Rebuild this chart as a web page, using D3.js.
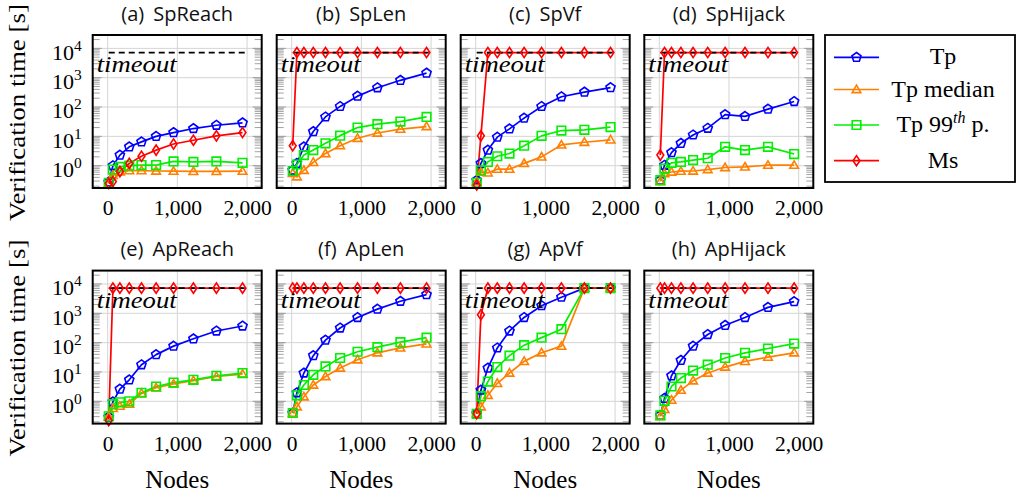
<!DOCTYPE html>
<html><head><meta charset="utf-8">
<script src="https://cdn.jsdelivr.net/npm/d3@7"></script>
<style>
html,body{margin:0;padding:0;background:#fff;}
svg{display:block;}
</style></head>
<body><svg id="chart" width="1017" height="497"></svg>
<script>
// ---------- data ----------
const nodes = [15, 75, 175, 310, 485, 695, 945, 1230, 1560, 1935];
const TIMEOUT = 7200;
const T = TIMEOUT;
const panelTitles = ["(a)", "(b)", "(c)", "(d)", "(e)", "(f)", "(g)", "(h)"];
const panelNames = ["SpReach", "SpLen", "SpVf", "SpHijack", "ApReach", "ApLen", "ApVf", "ApHijack"];
const seriesNames = ["Tp", "Tp median", "Tp 99th p.", "Ms"];
const xTicks = [0, 1000, 2000];
const yTicks = [1, 10, 100, 1000, 10000];

const tpValues = [
  [0.28, 1.0, 2.3, 4.4, 6.5, 10, 13.5, 18.5, 24, 29],
  [0.7, 1.2, 4.4, 14.6, 46, 105, 235, 455, 815, 1440],
  [0.32, 1.2, 3.4, 9.4, 18, 42, 105, 225, 324, 460],
  [0.32, 1.04, 2.8, 5.8, 11.2, 19, 55, 48, 85, 155],
  [0.29, 0.96, 2.6, 5.4, 17.7, 39, 76, 135, 250, 370],
  [0.4, 1.96, 9.2, 36, 122, 316, 720, 1390, 2570, 4350],
  [0.38, 2.4, 13.6, 66, 250, 720, 1820, 3550, T, T],
  [0.33, 1.26, 7.4, 25, 76, 190, 390, 720, 1590, 2500]
];
const medianValues = [
  [0.25, 0.47, 0.62, 0.68, 0.68, 0.66, 0.65, 0.64, 0.64, 0.65],
  [0.55, 0.42, 0.7, 1.3, 2.6, 4.8, 8.6, 13, 17.6, 21.6],
  [0.28, 0.6, 0.57, 0.76, 0.76, 1.2, 2.0, 5.1, 6.3, 7.6],
  [0.29, 0.54, 0.61, 0.65, 0.66, 0.74, 0.87, 0.91, 1.04, 1.04],
  [0.3, 0.57, 0.68, 0.8, 1.87, 2.9, 3.9, 5.1, 7.0, 8.5],
  [0.39, 0.65, 1.43, 3.6, 7.0, 13.6, 26, 45, 66, 91],
  [0.38, 0.65, 1.6, 4.1, 9.2, 23, 45, 76, T, T],
  [0.31, 0.53, 1.1, 2.4, 5.0, 9.2, 14.7, 23, 32, 45]
];
const p99Values = [
  [0.26, 0.74, 0.91, 1.0, 1.05, 1.05, 1.4, 1.35, 1.4, 1.25],
  [0.66, 1.1, 2.3, 3.4, 5.8, 10.6, 20, 26, 32, 46],
  [0.26, 0.7, 1.35, 2.1, 2.6, 4.8, 10.4, 15.8, 16.7, 20.8],
  [0.32, 0.8, 1.25, 1.35, 1.55, 1.8, 4.4, 3.4, 4.4, 2.5],
  [0.31, 0.8, 0.92, 1.0, 1.96, 3.2, 4.35, 5.4, 7.4, 9.2],
  [0.4, 1.6, 3.6, 8.0, 15.5, 30, 49, 70, 104, 148],
  [0.37, 1.5, 4.7, 14.7, 36, 82, 148, 287, T, T],
  [0.33, 1.04, 3.2, 6.2, 11.2, 17.7, 30, 45, 63, 93]
];
const msValues = [
  [0.25, 0.29, 0.63, 1.2, 2.1, 3.4, 5.5, 7.4, 10.4, 13.5],
  [4.8, T, T, T, T, T, T, T, T, T],
  [0.22, 10.4, T, T, T, T, T, T, T, T],
  [2.3, T, T, T, T, T, T, T, T, T],
  [0.22, T, T, T, T, T, T, T, T, T],
  [T, T, T, T, T, T, T, T, T, T],
  [0.38, 890, T, T, T, T, T, T, T, T],
  [T, T, T, T, T, T, T, T, T, T]
];

// ---------- style / layout ----------
const colors = ["#0000ff", "#ff8000", "#00f000", "#ff0000"];
const shapes = ["pentagon", "triangle", "square", "diamond"];
const colLefts = [92.7, 276.7, 460.7, 644.3];
const rowTops = [35, 270.6];
const PW = 169, PH = 153;
const serif = "'Liberation Serif', 'Times New Roman', serif";
const sans = "'Open Sans', 'DejaVu Sans', sans-serif";

function markerPath(shape) {
  if (shape === "pentagon") {
    const r = 4.8; const pts = [];
    for (let k = 0; k < 5; k++) { const a = -Math.PI / 2 + k * 2 * Math.PI / 5; pts.push([r * Math.cos(a), r * Math.sin(a)]); }
    return "M" + pts.map(p => p[0].toFixed(2) + "," + p[1].toFixed(2)).join("L") + "Z";
  }
  if (shape === "triangle") {
    const r = 5.0; const pts = [];
    for (let k = 0; k < 3; k++) { const a = -Math.PI / 2 + k * 2 * Math.PI / 3; pts.push([r * Math.cos(a), r * Math.sin(a) + 0.6]); }
    return "M" + pts.map(p => p[0].toFixed(2) + "," + p[1].toFixed(2)).join("L") + "Z";
  }
  if (shape === "square") { const h = 4.3; return `M${-h},${-h}L${h},${-h}L${h},${h}L${-h},${h}Z`; }
  const w = 3.4, hh = 5.1;
  return `M0,${-hh}L${w},0L0,${hh}L${-w},0Z`;
}

const svg = d3.select("#chart");
svg.append("rect").attr("width", 1017).attr("height", 497).attr("fill", "#fff");

panelNames.forEach((name, i) => {
  const col = i % 4, row = Math.floor(i / 4);
  const left = colLefts[col], top = rowTops[row];
  const x = d3.scaleLinear().domain([-215, 2210]).range([left, left + PW]);
  const y = d3.scaleLog().domain([Math.pow(10, -0.76), Math.pow(10, 4.456)]).range([top + PH, top]);
  const g = svg.append("g");

  // grid
  g.selectAll(".gx").data(xTicks).join("line")
    .attr("x1", d => x(d)).attr("x2", d => x(d)).attr("y1", top).attr("y2", top + PH)
    .attr("stroke", "#d4d4d4").attr("stroke-width", 1);
  g.selectAll(".gy").data(yTicks).join("line")
    .attr("x1", left).attr("x2", left + PW).attr("y1", d => y(d)).attr("y2", d => y(d))
    .attr("stroke", "#d4d4d4").attr("stroke-width", 1);

  // minor ticks (inside, both sides)
  const minors = [];
  for (let e = -1; e <= 4; e++) for (let m = 2; m <= 9; m++) {
    const v = m * Math.pow(10, e);
    if (v > y.domain()[0] && v < y.domain()[1]) minors.push(v);
  }
  [[left, 1], [left + PW, -1]].forEach(([x0, dir]) => {
    g.append("g").selectAll("line").data(minors).join("line")
      .attr("x1", x0).attr("x2", x0 + dir * 7).attr("y1", d => y(d)).attr("y2", d => y(d))
      .attr("stroke", "#9a9a9a").attr("stroke-width", 0.9);
    g.append("g").selectAll("line").data(yTicks).join("line")
      .attr("x1", x0).attr("x2", x0 + dir * 9).attr("y1", d => y(d)).attr("y2", d => y(d))
      .attr("stroke", "#9a9a9a").attr("stroke-width", 1);
  });

  const lineGen = d3.line().x(d => x(d[0])).y(d => y(d[1]));
  const allSeries = [tpValues[i], medianValues[i], p99Values[i], msValues[i]];

  // series lines
  allSeries.forEach((vals, s) => {
    const pts = nodes.map((n, k) => [n, vals[k]]);
    g.append("path").attr("d", lineGen(pts)).attr("fill", "none")
      .attr("stroke", colors[s]).attr("stroke-width", 1.7).attr("stroke-linejoin", "round");
  });

  // timeout line
  g.append("path").attr("d", lineGen([[nodes[0], TIMEOUT], [1985, TIMEOUT]]))
    .attr("stroke", "#000").attr("stroke-width", 1.8).attr("stroke-dasharray", "6,4").attr("fill", "none");

  // markers
  allSeries.forEach((vals, s) => {
    g.append("g").selectAll("path").data(nodes.map((n, k) => [n, vals[k]])).join("path")
      .attr("d", markerPath(shapes[s]))
      .attr("transform", d => `translate(${x(d[0])},${y(d[1])})`)
      .attr("fill", "none").attr("stroke", colors[s]).attr("stroke-width", 1.6);
  });

  // timeout label
  g.append("text").attr("x", left + 4).attr("y", top + 37)
    .attr("font-family", serif).attr("font-style", "italic").attr("font-size", 24)
    .attr("textLength", 80).attr("lengthAdjust", "spacingAndGlyphs")
    .text("timeout");

  // frame
  g.append("rect").attr("x", left).attr("y", top).attr("width", PW).attr("height", PH)
    .attr("fill", "none").attr("stroke", "#000").attr("stroke-width", 2);

  // x axis labels
  const xa = g.append("g").attr("transform", `translate(0,${top + PH})`)
    .call(d3.axisBottom(x).tickValues(xTicks).tickSize(0).tickFormat(d3.format(",")));
  xa.select(".domain").remove();
  xa.selectAll("text").attr("y", 27).attr("dy", null)
    .attr("font-family", serif).attr("font-size", 21.5).attr("fill", "#000");

  // y axis labels (first column)
  if (col === 0) {
    const ya = g.append("g").attr("transform", `translate(${left},0)`)
      .call(d3.axisLeft(y).tickValues(yTicks).tickSize(0));
    ya.select(".domain").remove();
    ya.selectAll("text").each(function (d) {
      const t = d3.select(this);
      t.text(null).attr("x", -11).attr("y", 10.7).attr("dy", null)
        .attr("font-family", serif).attr("font-size", 22).attr("fill", "#000").attr("text-anchor", "end");
      t.append("tspan").text("10");
      t.append("tspan").attr("dy", -9).attr("font-size", 15.5).text(String(Math.round(Math.log10(d))));
    });
    svg.append("text")
      .attr("transform", `translate(25,${top + PH / 2 + 1}) rotate(-90)`)
      .attr("text-anchor", "middle").attr("font-family", serif).attr("font-size", 24)
      .attr("textLength", 217).attr("lengthAdjust", "spacingAndGlyphs")
      .text("Verification time [s]");
  }

  // title
  const tt = svg.append("text").attr("x", left + PW / 2).attr("y", top - 14.5)
    .attr("text-anchor", "middle").attr("font-family", sans).attr("font-size", 20).attr("fill", "#111");
  tt.append("tspan").text(panelTitles[i]);
  tt.append("tspan").attr("dx", 9).text(name);

  // x label (bottom row)
  if (row === 1) {
    svg.append("text").attr("x", left + PW / 2).attr("y", 488).attr("text-anchor", "middle")
      .attr("font-family", serif).attr("font-size", 25).text("Nodes");
  }
});

// ---------- legend ----------
const lg = svg.append("g");
lg.append("rect").attr("x", 825).attr("y", 35).attr("width", 190).attr("height", 147)
  .attr("fill", "#fff").attr("stroke", "#000").attr("stroke-width", 1.8);
const legendY = [57.3, 89.5, 125, 160.7];
seriesNames.forEach((nm, s) => {
  const yy = legendY[s];
  lg.append("line").attr("x1", 834).attr("x2", 879).attr("y1", yy).attr("y2", yy)
    .attr("stroke", colors[s]).attr("stroke-width", 1.7);
  lg.append("path").attr("d", markerPath(shapes[s])).attr("transform", `translate(856.5,${yy})`)
    .attr("fill", "none").attr("stroke", colors[s]).attr("stroke-width", 1.6);
  const t = lg.append("text").attr("x", 943).attr("y", yy + 7).attr("text-anchor", "middle")
    .attr("font-family", serif).attr("font-size", 24).attr("fill", "#000");
  if (s === 2) {
    t.append("tspan").text("Tp 99");
    t.append("tspan").attr("dy", -9).attr("font-size", 16).attr("font-style", "italic").text("th");
    t.append("tspan").attr("dy", 9).text(" p.");
  } else {
    t.text(nm);
  }
});
</script>
</body></html>
